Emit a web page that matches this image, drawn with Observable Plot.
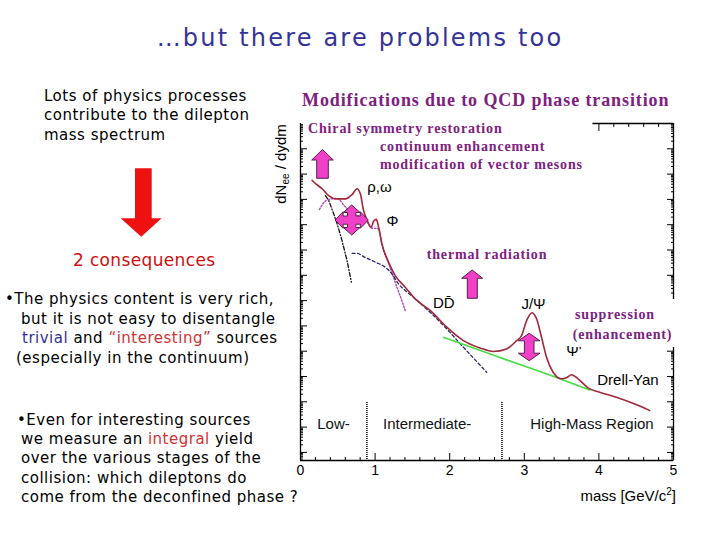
<!DOCTYPE html>
<html><head><meta charset="utf-8">
<script src="https://cdn.jsdelivr.net/npm/d3@7"></script>
<script src="https://cdn.jsdelivr.net/npm/@observablehq/plot@0.6"></script>
<style>
body{margin:0;background:#fff;}
#page{position:relative;width:720px;height:540px;overflow:hidden;background:#fff;font-family:"DejaVu Sans",sans-serif;}
.t{position:absolute;white-space:nowrap;line-height:1;}
.l{font-size:15px;letter-spacing:0.5px;color:#000;}
.p{font-family:"Liberation Serif",serif;font-weight:bold;color:#7e2080;font-size:14px;letter-spacing:0.85px;}
.a{font-family:"Liberation Sans",sans-serif;color:#000;}
#plot{position:absolute;left:260px;top:80px;}
#deco{position:absolute;left:0;top:0;}
</style></head><body><div id="page">
<div id="plot"></div>
<svg id="deco" width="720" height="540">
  <polygon points="135,168.3 151.7,168.3 151.7,218.3 161.7,218.3 141.2,236.7 120.7,218.3 135,218.3" fill="#ee1111"/>
  <g fill="#f040c8" stroke="#5a2050" stroke-width="1">
    <polygon points="316.7,178.3 316.7,160 311.7,160 322.5,149.5 333.3,160 328.3,160 328.3,178.3"/>
    <polygon points="351.7,205 360,212.5 355.9,212.5 355.9,216 360.3,216 360.3,211.7 368.3,220 360.3,228.3 360.3,224.2 355.9,224.2 355.9,227.5 360,227.5 351.7,235 343.4,227.5 347.5,227.5 347.5,224.2 343.1,224.2 343.1,228.3 335,220 343.1,211.7 343.1,216 347.5,216 347.5,212.5 343.4,212.5"/>
    <polygon points="467.3,298.3 467.3,278.3 461.7,278.3 472.2,270 482.7,278.3 477.3,278.3 477.3,298.3"/>
    <polygon points="529.2,333.3 540,340.8 534,340.8 534,353.2 540,353.2 529.2,360.7 518.3,353.2 524.4,353.2 524.4,340.8 518.3,340.8"/>
  </g>
</svg>
<div class="t" style="left:0;width:720px;text-align:center;top:25.7px;font-size:24px;letter-spacing:2.2px;color:#333399;">…but there are problems too</div>
<div class="t l" style="left:44px;top:89px;">Lots of physics processes</div>
<div class="t l" style="left:44px;top:108.3px;">contribute to the dilepton</div>
<div class="t l" style="left:44px;top:127.8px;">mass spectrum</div>
<div class="t" style="left:73px;top:252.3px;font-size:17px;letter-spacing:0.35px;color:#cc1010;">2 consequences</div>
<div class="t l" style="left:5px;top:292.3px;">•The physics content is very rich,</div>
<div class="t l" style="left:21px;top:311.6px;">but it is not easy to disentangle</div>
<div class="t l" style="left:22px;top:331.3px;"><span style="color:#333399">trivial</span> and <span style="color:#cc3333">“interesting”</span> sources</div>
<div class="t l" style="left:16px;top:350.6px;">(especially in the continuum)</div>
<div class="t l" style="left:17px;top:413px;">•Even for interesting sources</div>
<div class="t l" style="left:21px;top:432.3px;">we measure an <span style="color:#cc3333">integral</span> yield</div>
<div class="t l" style="left:21px;top:451.3px;">over the various stages of the</div>
<div class="t l" style="left:21px;top:470.6px;">collision: which dileptons do</div>
<div class="t l" style="left:21px;top:490px;">come from the deconfined phase ?</div>
<div class="t p" style="left:302px;top:90.6px;font-size:18px;letter-spacing:0.9px;">Modifications due to QCD phase transition</div>
<div class="t p" style="left:308px;top:121.6px;">Chiral symmetry restoration</div>
<div class="t p" style="left:380px;top:140px;">continuum enhancement</div>
<div class="t p" style="left:380px;top:158.3px;">modification of vector mesons</div>
<div class="t p" style="left:426.7px;top:247.6px;">thermal radiation</div>
<div class="t" style="left:571px;top:299px;width:106px;height:48px;background:#fff;"></div>
<div class="t p" style="left:575px;top:307.6px;">suppression</div>
<div class="t p" style="left:572.7px;top:327.6px;">(enhancement)</div>
<div class="t a" style="left:241.5px;top:155px;width:80px;text-align:center;font-size:15px;transform:rotate(-90deg);transform-origin:50% 50%;">dN<sub style="font-size:10px;vertical-align:-3px;">ee</sub> / dydm</div>
<div class="t a" style="right:44px;top:487.3px;font-size:15px;">mass [GeV/c<sup style="font-size:10px;vertical-align:6px;">2</sup>]</div>
</div>
<script>
// ---- data ----
const totalMass = [0.156,0.214,0.290,0.378,0.468,0.602,0.691,0.758,0.802,0.846,0.892,0.949,0.980,1.016,1.047,1.092,1.180,1.270,1.404,1.537,1.738,1.961,2.183,2.406,2.584,2.763,2.897,2.964,3.031,3.106,3.164,3.231,3.298,3.386,3.499,3.566,3.632,3.721,3.854,4.011,4.234,4.456,4.679];
const totalLog = [-2.25,-2.41,-2.58,-2.85,-2.98,-2.98,-2.81,-2.58,-2.78,-3.44,-3.83,-4.10,-3.86,-3.79,-4.10,-4.76,-5.48,-6.01,-6.47,-6.93,-7.39,-8.05,-8.58,-8.87,-9.01,-8.91,-8.58,-8.38,-7.79,-7.48,-7.72,-8.45,-9.24,-9.83,-10.09,-10.05,-9.93,-10.09,-10.45,-10.62,-10.82,-11.06,-11.34];
const dyMass = [1.916,2.674,3.476,3.877];
const dyLog = [-8.45,-9.25,-10.09,-10.53];
const charmMass = [0.691,0.758,0.846,1.003,1.136,1.226,1.314,1.404,1.515,1.738,1.961,2.183,2.496];
const charmLog = [-5.13,-5.13,-5.26,-5.48,-5.68,-5.94,-6.34,-6.60,-6.87,-7.46,-8.12,-8.84,-9.83];
const hadronMass = [0.334,0.378,0.445,0.491,0.557,0.624,0.682];
const hadronLog = [-2.85,-3.04,-3.57,-3.96,-4.63,-5.42,-6.27];
const rhoMass = [0.254,0.311,0.378,0.491,0.602,0.735,0.869,0.949,1.047,1.092,1.180,1.247,1.293,1.350,1.404];
const rhoLog = [-3.40,-3.13,-3.00,-2.96,-3.30,-3.60,-3.74,-4.13,-4.16,-4.80,-5.52,-6.08,-6.47,-6.93,-7.39];
const regionBounds = [0.89, 2.70];
const regionLabels = ["Low-", "Intermediate-", "High-Mass Region"];
const regionMass = [0.442, 1.698, 3.907];
const peakLabels = ["ρ,ω", "Φ", "DD\u0304", "J/Ψ", "Ψ'", "Drell-Yan"];
const peakMass = [1.059, 1.233, 1.921, 3.123, 3.664, 4.39];
const peakLog = [-2.53, -3.87, -7.11, -7.15, -9.01, -10.16];
const xTickLabels = [0, 1, 2, 3, 4, 5];

// ---- build tables ----
const toRows = (ms, ls) => ms.map((m, i) => ({m, y: 10 ** ls[i]}));
const total = toRows(totalMass, totalLog);
const dy = toRows(dyMass, dyLog);
const charm = toRows(charmMass, charmLog);
const hadron = toRows(hadronMass, hadronLog);
const rho = toRows(rhoMass, rhoLog);
const peaks = peakLabels.map((t, i) => ({t, m: peakMass[i], y: 10 ** peakLog[i]}));
const yLo = 10 ** -13.32, yHi = 1;
const regions = regionLabels.map((t, i) => ({t, m: regionMass[i], y: 10 ** -11.87}));

const yMajor = d3.range(-13, 0).map(e => 10 ** e);
const yMinor = [];
for (let e = -14; e < 0; e++) for (let k = 2; k <= 9; k++) { const v = k * 10 ** e; if (v > yLo && v < yHi) yMinor.push(v); }
const xMinor = d3.range(0, 25).map(i => i / 5).filter(v => v % 1 !== 0);
const topMajor = [4, 5], topMinor = [4.2, 4.4, 4.6, 4.8];

const noLab = () => "";
const chart = Plot.plot({
  width: 440, height: 440,
  marginLeft: 40, marginRight: 27, marginTop: 43, marginBottom: 60,
  x: {domain: [0, 5]},
  y: {type: "log", domain: [yLo, yHi]},
  style: {background: "transparent", fontFamily: "Liberation Sans", color: "#000", overflow: "visible"},
  marks: [
    Plot.ruleX([0, 5], {stroke: "#000", strokeWidth: 1.3}),
    Plot.ruleY([yLo], {stroke: "#000", strokeWidth: 1.3}),
    Plot.ruleY([yHi], {x1: 3.92, x2: 5, stroke: "#000", strokeWidth: 1.3}),
    Plot.axisY({anchor: "left", ticks: yMajor, tickSize: -7, tickFormat: noLab, label: null}),
    Plot.axisY({anchor: "left", ticks: yMinor, tickSize: -3, tickFormat: noLab, label: null}),
    Plot.axisY({anchor: "right", ticks: yMajor, tickSize: -7, tickFormat: noLab, label: null}),
    Plot.axisY({anchor: "right", ticks: yMinor, tickSize: -3, tickFormat: noLab, label: null}),
    Plot.axisX({anchor: "bottom", ticks: xTickLabels, tickSize: -7, tickFormat: noLab, label: null}),
    Plot.axisX({anchor: "bottom", ticks: xMinor, tickSize: -3, tickFormat: noLab, label: null}),
    Plot.axisX({anchor: "bottom", ticks: xTickLabels, tickSize: 0, tickPadding: 5, fontSize: 14, tickFormat: d => String(d), label: null}),
    Plot.axisX({anchor: "top", ticks: topMajor, tickSize: -7, tickFormat: noLab, label: null}),
    Plot.axisX({anchor: "top", ticks: topMinor, tickSize: -3, tickFormat: noLab, label: null}),
    Plot.ruleX(regionBounds, {y1: 10 ** -11.03, y2: yLo, stroke: "#222", strokeWidth: 1.8, strokeDasharray: "1,1"}),
    Plot.line(hadron, {x: "m", y: "y", stroke: "#111", strokeWidth: 1.3, strokeDasharray: "4,2,1,2"}),
    Plot.line(rho, {x: "m", y: "y", stroke: "#b040c0", strokeWidth: 1.4, strokeDasharray: "1.5,1.8", curve: "monotone-x"}),
    Plot.line(charm, {x: "m", y: "y", stroke: "#262670", strokeWidth: 1.3, strokeDasharray: "3,2.5", curve: "monotone-x"}),
    Plot.line(dy, {x: "m", y: "y", stroke: "#44dd44", strokeWidth: 1.6, curve: "monotone-x"}),
    Plot.line(total, {x: "m", y: "y", stroke: "#a0283a", strokeWidth: 1.6, curve: "monotone-x"}),
    Plot.text(peaks, {x: "m", y: "y", text: "t", fontSize: 15, fill: "#000"}),
    Plot.text(regions, {x: "m", y: "y", text: "t", fontSize: 15, fill: "#111"})
  ]
});
document.getElementById("plot").appendChild(chart);
</script>
</body></html>
